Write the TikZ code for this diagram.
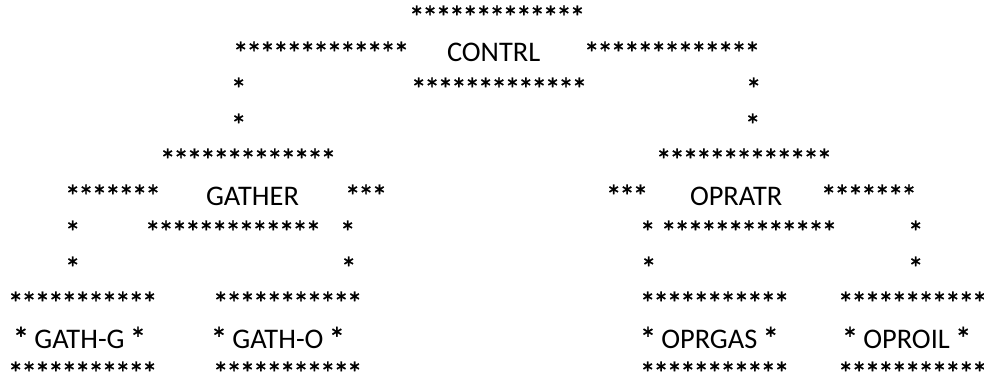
\documentclass[tikz,border=0pt]{standalone}
\usepackage{fontspec}
\usepackage{graphicx}
\setmainfont{Carlito}
\newfontfamily\starfont[FakeBold=0.8]{Carlito}
\newcommand\onestar{\makebox[0.49em][c]{\raisebox{-0.07em}{\scalebox{1.15}{\starfont *}}}}
\newcommand\sts[1]{\foreach\i in {1,...,#1}{\onestar}}
\begin{document}
\begin{tikzpicture}[x=0.75pt,y=-0.75pt,
  lbl/.style={anchor=base west,inner sep=0pt,outer sep=0pt,font=\fontsize{20.5}{24}\selectfont},
  word/.style={lbl,font=\fontsize{21.3}{25}\selectfont}]
\useasboundingbox (0,0) rectangle (984,381);
% row 1
\node[lbl] (r1a) at (410,26) {\sts{13}};
% row 2
\node[lbl] (r2a) at (234,62) {\sts{13}};
\node[word] (contrl) at (447,62) {CONTRL};
\node[lbl] (r2c) at (585,62) {\sts{13}};
% row 3
\node[lbl] (r3a) at (232,98) {\sts{1}};
\node[lbl] (r3b) at (412,98) {\sts{13}};
\node[lbl] (r3c) at (747,98) {\sts{1}};
% row 4
\node[lbl] (r4a) at (232,134) {\sts{1}};
\node[lbl] (r4b) at (746,134) {\sts{1}};
% row 5
\node[lbl] (r5a) at (161,169) {\sts{13}};
\node[lbl] (r5b) at (657,169) {\sts{13}};
% row 6
\node[lbl] (r6a) at (66,205) {\sts{7}};
\node[word] (gather) at (206,205) {GATHER};
\node[lbl] (r6c) at (346,205) {\sts{3}};
\node[lbl] (r6d) at (607,205) {\sts{3}};
\node[word] (opratr) at (690,205) {OPRATR};
\node[lbl] (r6f) at (822,205) {\sts{7}};
% row 7
\node[lbl] (r7a) at (66,241) {\sts{1}};
\node[lbl] (r7b) at (146,241) {\sts{13}};
\node[lbl] (r7c) at (341,241) {\sts{1}};
\node[lbl] (r7d) at (641,241) {\sts{1}};
\node[lbl] (r7e) at (662,241) {\sts{13}};
\node[lbl] (r7f) at (909,241) {\sts{1}};
% row 8
\node[lbl] (r8a) at (66,277) {\sts{1}};
\node[lbl] (r8b) at (342,277) {\sts{1}};
\node[lbl] (r8c) at (642,277) {\sts{1}};
\node[lbl] (r8d) at (909,277) {\sts{1}};
% row 9
\node[lbl] (r9a) at (9,312) {\sts{11}};
\node[lbl] (r9b) at (214,312) {\sts{11}};
\node[lbl] (r9c) at (641,312) {\sts{11}};
\node[lbl] (r9d) at (839,312) {\sts{11}};
% row 10
\node[word] (gathg) at (14,348) {\onestar{} GATH-G \onestar};
\node[word] (gatho) at (212,348) {\onestar{} GATH-O \onestar};
\node[word] (oprgas) at (641,348) {\onestar{} OPRGAS \onestar};
\node[word] (oproil) at (843,348) {\onestar{} OPROIL \onestar};
% row 11
\node[lbl] (r11a) at (9,382) {\sts{11}};
\node[lbl] (r11b) at (214,382) {\sts{11}};
\node[lbl] (r11c) at (641,382) {\sts{11}};
\node[lbl] (r11d) at (839,382) {\sts{11}};
\end{tikzpicture}
\end{document}
